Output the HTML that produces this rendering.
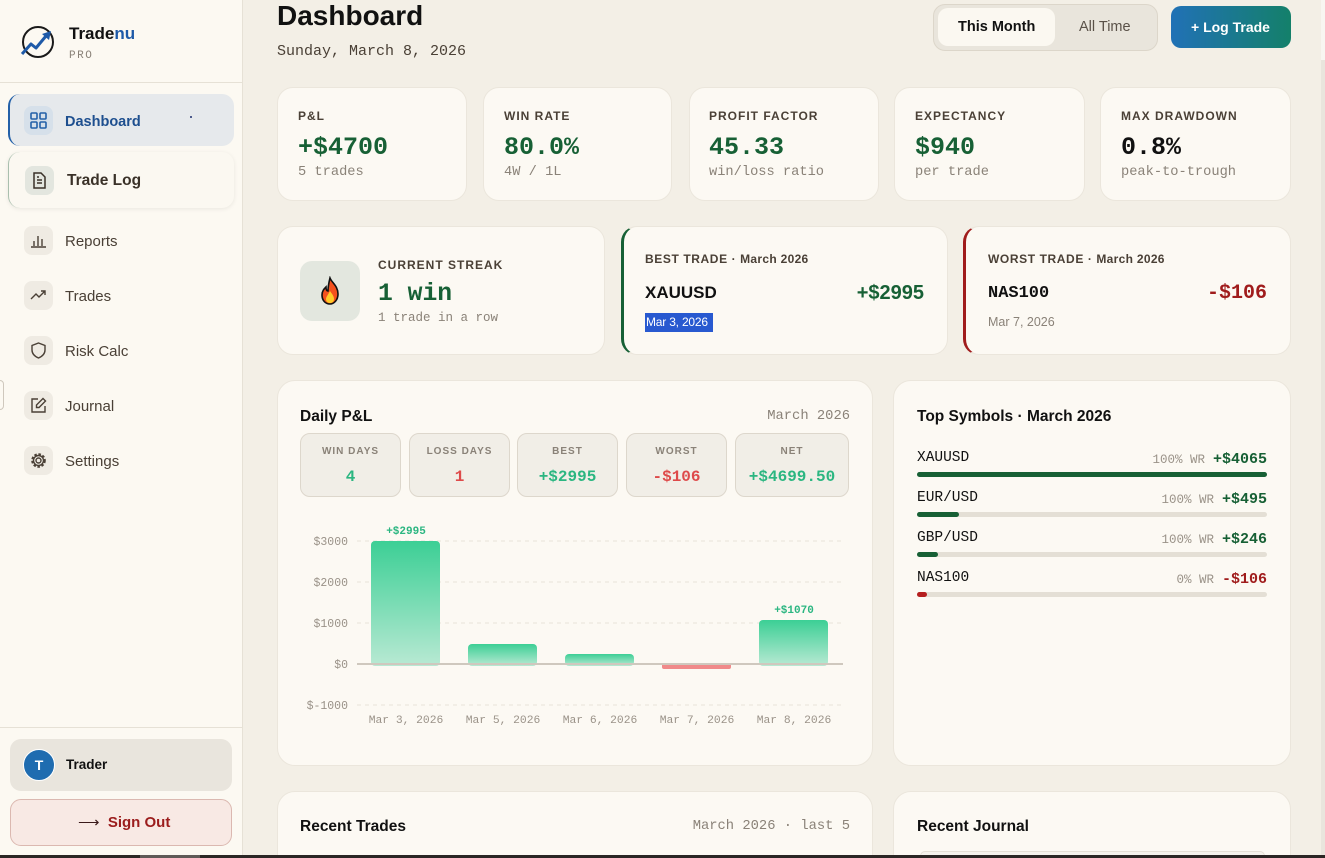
<!DOCTYPE html>
<html><head><meta charset="utf-8">
<style>
*{margin:0;padding:0;box-sizing:border-box}
html,body{width:1325px;height:858px;overflow:hidden;background:#f3efe6;font-family:"Liberation Sans",sans-serif;color:#1a1a1a}
#root{position:relative;width:1325px;height:858px;overflow:hidden}
.a{position:absolute}
.t{position:absolute;white-space:nowrap;line-height:1}
.m{font-family:"Liberation Mono",monospace}
.card{position:absolute;background:#fcf9f3;border:1px solid #ebe6dc;border-radius:16px}
.lbl{font-size:12px;font-weight:bold;letter-spacing:1px;color:#4a4036}
.val{font-family:"Liberation Mono",monospace;font-weight:bold;font-size:25px;color:#176035}
.sub{font-family:"Liberation Mono",monospace;font-size:13.7px;color:#8a8278}
.nav{position:absolute;left:65px;font-size:15px;color:#4a4036}
.ib{position:absolute;width:29px;height:29px;border-radius:8px;background:#efebe3}
.ib svg{position:absolute;left:6px;top:6px}
.mini{position:absolute;top:433px;height:64px;background:#f1eee7;border:1px solid #ddd7cc;border-radius:10px}
.mini .ml{position:absolute;left:0;right:0;top:13px;text-align:center;font-size:10px;font-weight:bold;letter-spacing:1px;color:#8a8278;line-height:1}
.mini .mv{position:absolute;left:0;right:0;top:35px;text-align:center;font-family:"Liberation Mono",monospace;font-weight:bold;font-size:16px;line-height:1}
.g{color:#2bb681}.r{color:#de4a4a}
.sym{position:absolute;left:917px;width:350px}
.sym .n{position:absolute;left:0;top:0;font-family:"Liberation Mono",monospace;font-size:14.5px;color:#111;line-height:1}
.sym .rt{position:absolute;right:0;top:0;line-height:1;white-space:nowrap}
.sym .wr{font-family:"Liberation Mono",monospace;font-size:12.5px;color:#9a9288;margin-right:8px}
.sym .v{font-family:"Liberation Mono",monospace;font-size:15px;font-weight:bold;color:#176035}
.trk{position:absolute;left:917px;width:350px;height:5px;border-radius:3px;background:#e4dfd5}
.trk div{height:5px;border-radius:3px;background:#176035}
</style></head><body><div id="root">

<!-- Sidebar -->
<div class="a" style="left:0;top:0;width:243px;height:858px;background:#fcf9f2;border-right:1px solid #e6e1d6"></div>
<svg class="a" style="left:19px;top:24px" width="40" height="36" viewBox="0 0 40 36">
 <circle cx="19" cy="18" r="15" fill="none" stroke="#1a1a1a" stroke-width="2"/>
 <path d="M3 30 L12 20 L17 24 L27 12" fill="none" stroke="#1e5aa8" stroke-width="3" stroke-linejoin="round"/>
 <path d="M23 10 L32 7 L30 16 Z" fill="#1e5aa8"/>
</svg>
<div class="t" style="left:69px;top:25px;font-size:17px;font-weight:bold;color:#111">Trade<span style="color:#1e5aa8">nu</span></div>
<div class="t m" style="left:69px;top:51px;font-size:11px;letter-spacing:1.5px;color:#8a8278">PRO</div>
<div class="a" style="left:0;top:82px;width:243px;height:1px;background:#e6e1d6"></div>

<div class="a" style="left:8px;top:94px;width:226px;height:52px;background:#e6e9ec;border-left:2px solid #2360a8;border-radius:12px"></div>
<div class="ib" style="left:24px;top:106px;background:#d6e0ea"><svg width="17" height="17" viewBox="0 0 17 17" fill="none" stroke="#2360a8" stroke-width="1.6"><rect x="1" y="1" width="6" height="6" rx="1"/><rect x="10" y="1" width="6" height="6" rx="1"/><rect x="1" y="10" width="6" height="6" rx="1"/><rect x="10" y="10" width="6" height="6" rx="1"/></svg></div>
<div class="t" style="left:65px;top:115px;font-size:14.5px;font-weight:bold;color:#1e4f8f">Dashboard</div>
<div class="a" style="left:190px;top:116px;width:2px;height:2px;background:#1e2f6f;border-radius:1px"></div>

<div class="a" style="left:8px;top:152px;width:226px;height:56px;background:#fbf8f1;border-left:1px solid #a9bfae;border-radius:12px;box-shadow:0 1px 5px rgba(0,0,0,0.08)"></div>
<div class="ib" style="left:25px;top:166px;background:#e3e6df"><svg width="17" height="17" viewBox="0 0 17 17" fill="none" stroke="#3a3128" stroke-width="1.5"><path d="M3 1 H10 L14 5 V16 H3 Z"/><path d="M6 8 H11 M6 11 H11 M6 5 H8"/></svg></div>
<div class="t" style="left:67px;top:173px;font-size:15.5px;font-weight:bold;color:#3a3128">Trade Log</div>

<div class="ib" style="left:24px;top:226px"><svg width="17" height="17" viewBox="0 0 17 17" fill="none" stroke="#4a4036" stroke-width="1.4"><path d="M1 15 H16 M4 14 V9 M8 14 V4 M12 14 V7"/></svg></div>
<div class="nav t" style="top:234px">Reports</div>
<div class="ib" style="left:24px;top:281px"><svg width="17" height="17" viewBox="0 0 17 17" fill="none" stroke="#4a4036" stroke-width="1.4"><path d="M1 12 L6 7 L9 10 L15 4 M11 4 H15 V8"/></svg></div>
<div class="nav t" style="top:289px">Trades</div>
<div class="ib" style="left:24px;top:336px"><svg width="17" height="17" viewBox="0 0 17 17" fill="none" stroke="#4a4036" stroke-width="1.4"><path d="M8.5 1 L15 3.5 V8 C15 12 12 14.5 8.5 16 C5 14.5 2 12 2 8 V3.5 Z"/></svg></div>
<div class="nav t" style="top:344px">Risk Calc</div>
<div class="ib" style="left:24px;top:391px"><svg width="17" height="17" viewBox="0 0 17 17" fill="none" stroke="#4a4036" stroke-width="1.4"><path d="M8 2 H2 V15 H15 V9"/><path d="M13 1.5 L15.5 4 L9 10.5 H6.5 V8 Z"/></svg></div>
<div class="nav t" style="top:399px">Journal</div>
<div class="ib" style="left:24px;top:446px"><svg width="17" height="17" viewBox="0 0 17 17" fill="none" stroke="#4a4036" stroke-width="1.4"><circle cx="8.5" cy="8.5" r="2.5"/><circle cx="8.5" cy="8.5" r="6" stroke-dasharray="2.4 1.6" stroke-width="2.6"/><circle cx="8.5" cy="8.5" r="5" /></svg></div>
<div class="nav t" style="top:454px">Settings</div>

<div class="a" style="left:0;top:380px;width:4px;height:30px;border:1px solid #cfc8bd;border-left:none;border-radius:0 4px 4px 0"></div>

<div class="a" style="left:0;top:727px;width:243px;height:1px;background:#e6e1d6"></div>
<div class="a" style="left:10px;top:739px;width:222px;height:52px;background:#e9e5dd;border-radius:11px"></div>
<div class="a" style="left:23px;top:749px;width:32px;height:32px;border-radius:50%;background:#1f6cb0;border:1px solid #fff;color:#fff;font-weight:bold;font-size:14px;line-height:30px;text-align:center">T</div>
<div class="t" style="left:66px;top:758px;font-size:13.5px;font-weight:bold;color:#111">Trader</div>
<div class="a" style="left:10px;top:799px;width:222px;height:47px;background:#f8e9e4;border:1px solid #dbb8b0;border-radius:11px"></div>
<div class="t" style="left:78px;top:815px;font-size:15px;font-weight:bold;color:#9b1c1c"><span style="color:#3a1a1a;font-weight:normal">⟶</span>&nbsp; Sign Out</div>

<!-- Header -->
<div class="t" style="left:277px;top:2px;font-size:28px;font-weight:bold;color:#111">Dashboard</div>
<div class="t m" style="left:277px;top:44px;font-size:15px;color:#4a4036">Sunday, March 8, 2026</div>
<div class="a" style="left:933px;top:4px;width:225px;height:47px;background:#e9e5dc;border:1px solid #dcd6ca;border-radius:12px"></div>
<div class="a" style="left:938px;top:8px;width:117px;height:38px;background:#fbf8f1;border-radius:10px"></div>
<div class="t" style="left:958px;top:20px;font-size:14.5px;font-weight:bold;color:#111">This Month</div>
<div class="t" style="left:1079px;top:20px;font-size:14.5px;color:#5a5148">All Time</div>
<div class="a" style="left:1171px;top:6px;width:120px;height:42px;border-radius:10px;background:linear-gradient(90deg,#2171b6,#14806a)"></div>
<div class="t" style="left:1191px;top:20px;font-size:14px;font-weight:bold;color:#fff">+ Log Trade</div>

<!-- Stat cards -->
<div class="card" style="left:277px;top:87px;width:190px;height:114px"></div>
<div class="card" style="left:483px;top:87px;width:189px;height:114px"></div>
<div class="card" style="left:689px;top:87px;width:190px;height:114px"></div>
<div class="card" style="left:894px;top:87px;width:191px;height:114px"></div>
<div class="card" style="left:1100px;top:87px;width:191px;height:114px"></div>
<div class="t lbl" style="left:298px;top:110px">P&amp;L</div>
<div class="t val" style="left:298px;top:135px">+$4700</div>
<div class="t sub" style="left:298px;top:166px">5 trades</div>
<div class="t lbl" style="left:504px;top:110px">WIN RATE</div>
<div class="t val" style="left:504px;top:135px">80.0%</div>
<div class="t sub" style="left:504px;top:166px">4W / 1L</div>
<div class="t lbl" style="left:709px;top:110px">PROFIT FACTOR</div>
<div class="t val" style="left:709px;top:135px">45.33</div>
<div class="t sub" style="left:709px;top:166px">win/loss ratio</div>
<div class="t lbl" style="left:915px;top:110px">EXPECTANCY</div>
<div class="t val" style="left:915px;top:135px">$940</div>
<div class="t sub" style="left:915px;top:166px">per trade</div>
<div class="t lbl" style="left:1121px;top:110px">MAX DRAWDOWN</div>
<div class="t val" style="left:1121px;top:135px;color:#111">0.8%</div>
<div class="t sub" style="left:1121px;top:166px">peak-to-trough</div>

<!-- Row 2 -->
<div class="card" style="left:277px;top:226px;width:328px;height:129px"></div>
<div class="a" style="left:300px;top:261px;width:60px;height:60px;border-radius:12px;background:#e3e7df"></div>
<svg class="a" style="left:318px;top:276px" width="24" height="30" viewBox="0 0 24 30">
 <path d="M12 2 C14 7 20 10 20 18 C20 24 16 28 12 28 C7 28 4 24 4 19 C4 15 6 13 8 11 C8 14 9 15 10 15 C10 10 11 6 12 2Z" fill="#f4511e" stroke="#111" stroke-width="1.6"/>
 <path d="M12 15 C14 18 16 20 16 23 C16 26 14 27 12 27 C10 27 8 26 8 23 C8 21 10 19 12 15Z" fill="#ffca28"/>
</svg>
<div class="t lbl" style="left:378px;top:259px;letter-spacing:1px">CURRENT STREAK</div>
<div class="t m" style="left:378px;top:282px;font-size:24.7px;font-weight:bold;color:#176035">1 win</div>
<div class="t m" style="left:378px;top:312px;font-size:12.5px;color:#8a8278">1 trade in a row</div>

<div class="card" style="left:621px;top:226px;width:327px;height:129px;border-left:3px solid #176035"></div>
<div class="t lbl" style="left:645px;top:253px;letter-spacing:0.6px">BEST TRADE · <span style="letter-spacing:0.3px">March 2026</span></div>
<div class="t" style="left:645px;top:284px;font-size:17px;font-weight:bold;color:#111">XAUUSD</div>
<div class="t" style="right:401px;top:283px;font-size:20px;font-weight:bold;color:#176035">+$2995</div>
<div class="a" style="left:645px;top:313px;width:68px;height:19px;background:#2859d0"></div>
<div class="t" style="left:646px;top:316px;font-size:12px;color:#fff;letter-spacing:-0.2px">Mar 3, 2026</div>

<div class="card" style="left:963px;top:226px;width:328px;height:129px;border-left:3px solid #a01c1c"></div>
<div class="t lbl" style="left:988px;top:253px;letter-spacing:0.6px">WORST TRADE · <span style="letter-spacing:0.3px">March 2026</span></div>
<div class="t m" style="left:988px;top:285px;font-size:17px;font-weight:bold;color:#111">NAS100</div>
<div class="t m" style="left:1207px;top:284px;font-size:20px;font-weight:bold;color:#a01c1c">-$106</div>
<div class="t" style="left:988px;top:316px;font-size:12.5px;color:#8a8278">Mar 7, 2026</div>

<!-- Daily P&L -->
<div class="card" style="left:277px;top:380px;width:596px;height:386px;border-radius:18px"></div>
<div class="t" style="left:300px;top:409px;font-size:15.5px;font-weight:bold;color:#111">Daily P&amp;L</div>
<div class="t m" style="right:475px;top:410px;font-size:13.8px;color:#8a8278">March 2026</div>
<div class="mini" style="left:300px;width:101px"><div class="ml">WIN DAYS</div><div class="mv g">4</div></div>
<div class="mini" style="left:409px;width:101px"><div class="ml">LOSS DAYS</div><div class="mv r">1</div></div>
<div class="mini" style="left:517px;width:101px"><div class="ml">BEST</div><div class="mv g">+$2995</div></div>
<div class="mini" style="left:626px;width:101px"><div class="ml">WORST</div><div class="mv r">-$106</div></div>
<div class="mini" style="left:735px;width:114px"><div class="ml">NET</div><div class="mv g">+$4699.50</div></div>

<svg class="a" style="left:0;top:0" width="1325" height="858">
 <defs>
  <linearGradient id="gb" x1="0" y1="0" x2="0" y2="1"><stop offset="0" stop-color="#3ccf95"/><stop offset="1" stop-color="#b8e9d3"/></linearGradient>
 </defs>
 <g stroke="#e8e3d9" stroke-width="1" stroke-dasharray="4 4">
  <line x1="357" y1="541" x2="843" y2="541"/><line x1="357" y1="582" x2="843" y2="582"/>
  <line x1="357" y1="623" x2="843" y2="623"/><line x1="357" y1="705" x2="843" y2="705"/>
 </g>
 <rect x="371" y="541" width="69" height="125" rx="4" fill="url(#gb)"/>
 <rect x="468" y="644" width="69" height="22" rx="4" fill="url(#gb)"/>
 <rect x="565" y="654" width="69" height="12" rx="4" fill="url(#gb)"/>
 <rect x="759" y="620" width="69" height="46" rx="4" fill="url(#gb)"/>
 <rect x="662" y="663" width="69" height="6" rx="2" fill="#f08a8a"/>
 <line x1="357" y1="664" x2="843" y2="664" stroke="#cfc8be" stroke-width="2"/>
 <g font-family="Liberation Mono, monospace" font-size="11.5" fill="#9a9288" text-anchor="end">
  <text x="348" y="545">$3000</text><text x="348" y="586">$2000</text><text x="348" y="627">$1000</text>
  <text x="348" y="668">$0</text><text x="348" y="709">$-1000</text>
 </g>
 <g font-family="Liberation Mono, monospace" font-size="11.3" fill="#9a9288" text-anchor="middle">
  <text x="406" y="723">Mar 3, 2026</text><text x="503" y="723">Mar 5, 2026</text><text x="600" y="723">Mar 6, 2026</text>
  <text x="697" y="723">Mar 7, 2026</text><text x="794" y="723">Mar 8, 2026</text>
 </g>
 <g font-family="Liberation Mono, monospace" font-size="11" font-weight="bold" fill="#2bb681" text-anchor="middle">
  <text x="406" y="534">+$2995</text><text x="794" y="613">+$1070</text>
 </g>
</svg>

<!-- Top Symbols -->
<div class="card" style="left:893px;top:380px;width:398px;height:386px;border-radius:18px"></div>
<div class="t" style="left:917px;top:409px;font-size:15.5px;font-weight:bold;color:#111">Top Symbols · March 2026</div>
<div class="sym" style="top:451px"><div class="n">XAUUSD</div><div class="rt"><span class="wr">100% WR</span><span class="v">+$4065</span></div></div>
<div class="trk" style="top:472px"><div style="width:350px"></div></div>
<div class="sym" style="top:491px"><div class="n">EUR/USD</div><div class="rt"><span class="wr">100% WR</span><span class="v">+$495</span></div></div>
<div class="trk" style="top:512px"><div style="width:42px"></div></div>
<div class="sym" style="top:531px"><div class="n">GBP/USD</div><div class="rt"><span class="wr">100% WR</span><span class="v">+$246</span></div></div>
<div class="trk" style="top:552px"><div style="width:21px"></div></div>
<div class="sym" style="top:571px"><div class="n">NAS100</div><div class="rt"><span class="wr">0% WR</span><span class="v" style="color:#a01c1c">-$106</span></div></div>
<div class="trk" style="top:592px"><div style="width:10px;background:#b51f1f"></div></div>

<!-- Row 4 -->
<div class="card" style="left:277px;top:791px;width:596px;height:90px;border-radius:18px"></div>
<div class="t" style="left:300px;top:819px;font-size:15.5px;font-weight:bold;color:#111">Recent Trades</div>
<div class="t m" style="right:475px;top:820px;font-size:13.8px;color:#8a8278">March 2026 · last 5</div>
<div class="card" style="left:893px;top:791px;width:398px;height:90px;border-radius:18px"></div>
<div class="t" style="left:917px;top:819px;font-size:15.5px;font-weight:bold;color:#111">Recent Journal</div>
<div class="a" style="left:920px;top:851px;width:345px;height:10px;border:1px solid #e4dfd5;border-radius:8px;background:#f5f2ec"></div>

<!-- scrollbar & taskbar -->
<div class="a" style="left:1321px;top:0;width:4px;height:60px;background:#f8f6f1"></div>
<div class="a" style="left:1321px;top:60px;width:4px;height:798px;background:#e9e5dd"></div>
<div class="a" style="left:0;top:855px;width:1325px;height:3px;background:#2b2624"></div>
<div class="a" style="left:140px;top:855px;width:60px;height:3px;background:#5f5a57"></div>
</div></body></html>
